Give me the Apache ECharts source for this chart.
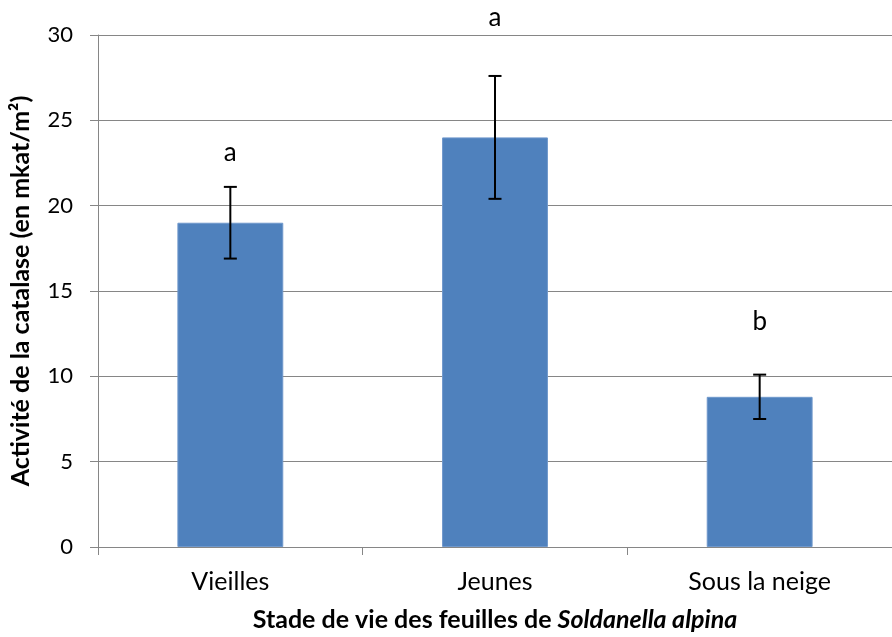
<!DOCTYPE html>
<html><head><meta charset="utf-8">
<script src="https://cdn.jsdelivr.net/npm/echarts@6/dist/echarts.min.js"></script>
<style>html,body{margin:0;padding:0;background:#fff}#c{width:892px;height:637px}</style>
</head><body><div id="c"></div>
<script>
const categories = ["Vieilles", "Jeunes", "Sous la neige"];
const values = [19.0, 24.0, 8.8];
const errLow = [16.9, 20.4, 7.5];
const errHigh = [21.1, 27.6, 10.1];
const letters = ["a", "a", "b"];
const letterY = [23.1, 31.0, 13.2];
const yTicks = [0, 5, 10, 15, 20, 25, 30];

const FONT = "Lato, 'Open Sans', sans-serif";
const chart = echarts.init(document.getElementById('c'));
chart.setOption({
  animation: false,
  grid: {left: 97, top: 35, bottom: 90, right: -9, containLabel: false},
  xAxis: {
    type: 'category', data: categories,
    axisLine: {lineStyle: {color: '#868686', width: 1}},
    axisTick: {show: true, length: 8, lineStyle: {color: '#868686'}},
    axisLabel: {color: '#000', fontSize: 25, fontFamily: FONT, margin: 22},
    name: 'Stade de vie des feuilles de {i|Soldanella alpina}',
    nameLocation: 'middle', nameGap: 60,
    nameTextStyle: {color: '#000', fontSize: 25, fontWeight: 'bold', fontFamily: FONT,
      rich: {i: {fontStyle: 'italic', fontWeight: 'bold', fontSize: 25, fontFamily: FONT, color: '#000'}}}
  },
  yAxis: {
    type: 'value', min: yTicks[0], max: yTicks[yTicks.length - 1], interval: 5,
    axisLine: {show: true, lineStyle: {color: '#868686'}},
    axisTick: {show: true, length: 8, lineStyle: {color: '#868686'}},
    splitLine: {lineStyle: {color: '#868686', width: 1}},
    axisLabel: {color: '#000', fontSize: 22, fontFamily: FONT, margin: 25},
    name: 'Activité de la catalase (en mkat/m²)', nameLocation: 'middle', nameGap: 65,
    nameTextStyle: {color: '#000', fontSize: 25, fontWeight: 'bold', fontFamily: FONT}
  },
  series: [
    {
      type: 'bar', data: values, barWidth: '40%',
      itemStyle: {color: '#4f81bd', borderColor: '#6f98cc', borderWidth: 1}
    },
    {
      type: 'custom',
      data: categories.map((c, i) => [i, errLow[i], errHigh[i]]),
      renderItem: function (params, api) {
        const lo = api.coord([api.value(0), api.value(1)]);
        const hi = api.coord([api.value(0), api.value(2)]);
        const w = 6.5;
        const st = {stroke: '#000', lineWidth: 2};
        return {type: 'group', children: [
          {type: 'line', shape: {x1: hi[0], y1: hi[1], x2: lo[0], y2: lo[1]}, style: st},
          {type: 'line', shape: {x1: hi[0] - w, y1: hi[1], x2: hi[0] + w, y2: hi[1]}, style: st},
          {type: 'line', shape: {x1: lo[0] - w, y1: lo[1], x2: lo[0] + w, y2: lo[1]}, style: st}
        ]};
      },
      z: 5
    },
    {
      type: 'custom',
      data: categories.map((c, i) => [i, letterY[i], letters[i]]),
      renderItem: function (params, api) {
        const p = api.coord([api.value(0), api.value(1)]);
        return {type: 'text', x: p[0], y: p[1], style: {
          text: letters[params.dataIndex], fill: '#000', fontSize: 26, fontFamily: FONT,
          align: 'center', verticalAlign: 'middle'}};
      },
      clip: false, z: 6
    }
  ]
});
</script></body></html>
